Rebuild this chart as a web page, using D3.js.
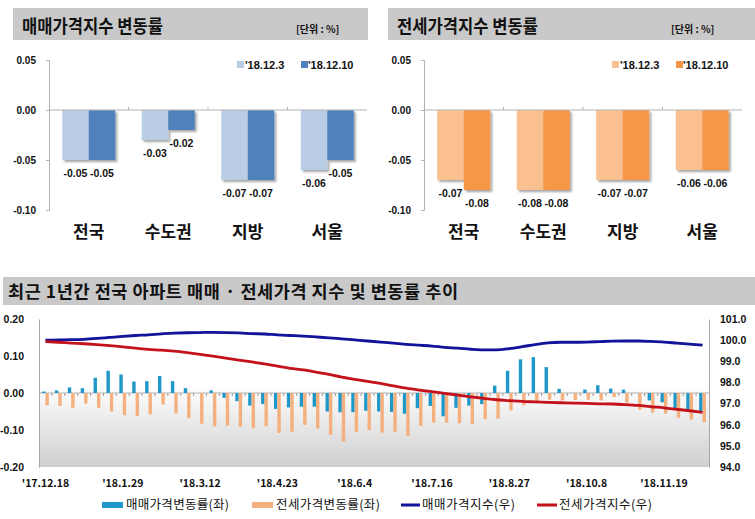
<!DOCTYPE html>
<html><head><meta charset="utf-8">
<script src="https://cdn.jsdelivr.net/npm/d3@7"></script>
<style>
body{margin:0;background:#fff}
svg{display:block}
text{font-family:"Noto Sans CJK KR","Noto Sans",sans-serif;fill:#111}
text.num{font-family:"Liberation Sans",Arial,sans-serif;font-weight:700}
</style>
</head><body>
<svg id="c" width="755" height="519"></svg>
<script>
// ---------- DATA ----------
const regions = ["전국", "수도권", "지방", "서울"];
const weekLegend = ["'18.12.3", "'18.12.10"];
const saleChangePrev = [-0.05, -0.03, -0.07, -0.06];
const saleChangeCurr = [-0.05, -0.02, -0.07, -0.05];
const jeonseChangePrev = [-0.07, -0.08, -0.07, -0.06];
const jeonseChangeCurr = [-0.08, -0.08, -0.07, -0.06];
const topTicks = [0.05, 0.00, -0.05, -0.10];

const weeks = ["'17.12.18","'17.12.25","'18.1.1","'18.1.8","'18.1.15","'18.1.22","'18.1.29","'18.2.5","'18.2.12","'18.2.19","'18.2.26","'18.3.5","'18.3.12","'18.3.19","'18.3.26","'18.4.2","'18.4.9","'18.4.16","'18.4.23","'18.4.30","'18.5.7","'18.5.14","'18.5.21","'18.5.28","'18.6.4","'18.6.11","'18.6.18","'18.6.25","'18.7.2","'18.7.9","'18.7.16","'18.7.23","'18.7.30","'18.8.6","'18.8.13","'18.8.20","'18.8.27","'18.9.3","'18.9.10","'18.9.17","'18.9.24","'18.10.1","'18.10.8","'18.10.15","'18.10.22","'18.10.29","'18.11.5","'18.11.12","'18.11.19","'18.11.26","'18.12.3","'18.12.10"];
const saleWeekly = [0.004,0.007,0.015,0.013,0.041,0.06,0.05,0.031,0.032,0.046,0.032,0.013,0,0.007,-0.013,-0.022,-0.034,-0.03,-0.043,-0.039,-0.037,-0.037,-0.05,-0.052,-0.052,-0.048,-0.05,-0.051,-0.056,-0.041,-0.035,-0.063,-0.04,-0.034,-0.03,0.02,0.06,0.091,0.097,0.07,0.011,0,0.009,0.021,0.012,0.009,0,-0.02,-0.025,-0.041,-0.047,-0.051];
const jeonseWeekly = [-0.033,-0.035,-0.04,-0.029,-0.04,-0.05,-0.06,-0.062,-0.058,-0.031,-0.055,-0.068,-0.083,-0.09,-0.088,-0.091,-0.095,-0.09,-0.108,-0.105,-0.086,-0.096,-0.113,-0.131,-0.105,-0.10,-0.107,-0.105,-0.116,-0.089,-0.08,-0.08,-0.082,-0.084,-0.071,-0.069,-0.047,-0.033,-0.022,-0.018,-0.02,-0.019,-0.018,-0.02,-0.011,-0.026,-0.045,-0.053,-0.056,-0.067,-0.072,-0.079];
const saleIndex = [100.00,100.01,100.02,100.04,100.08,100.13,100.18,100.22,100.25,100.30,100.33,100.35,100.36,100.37,100.36,100.34,100.31,100.29,100.25,100.22,100.19,100.15,100.11,100.06,100.01,99.96,99.91,99.86,99.80,99.76,99.72,99.66,99.62,99.57,99.54,99.54,99.60,99.69,99.79,99.87,99.90,99.90,99.91,99.93,99.95,99.96,99.96,99.94,99.91,99.86,99.81,99.76];
const jeonseIndex = [99.93,99.90,99.86,99.83,99.79,99.74,99.68,99.62,99.56,99.53,99.48,99.41,99.33,99.24,99.15,99.06,98.97,98.88,98.77,98.67,98.59,98.49,98.38,98.25,98.15,98.05,97.95,97.84,97.73,97.64,97.56,97.48,97.40,97.32,97.25,97.18,97.14,97.10,97.08,97.06,97.04,97.02,97.01,96.99,96.98,96.95,96.91,96.85,96.80,96.73,96.66,96.58];
const leftTicks = [0.20, 0.10, 0.00, -0.10, -0.20];
const rightTicks = [101, 100, 99, 98, 97, 96, 95, 94];
const legendBottom = ["매매가격변동률(좌)", "전세가격변동률(좌)", "매매가격지수(우)", "전세가격지수(우)"];

// ---------- SETUP ----------
const svg = d3.select("#c");
const defs = svg.append("defs");
const flt = defs.append("filter").attr("id", "sh").attr("x", "-30%").attr("y", "-10%").attr("width", "170%").attr("height", "130%");
flt.append("feDropShadow").attr("dx", 2).attr("dy", 2).attr("stdDeviation", 1.3)
  .attr("flood-color", "#000").attr("flood-opacity", 0.35);
const grad = defs.append("linearGradient").attr("id", "bg").attr("x1", 0).attr("y1", 0).attr("x2", 0).attr("y2", 1);
grad.append("stop").attr("offset", "0%").attr("stop-color", "#ffffff");
grad.append("stop").attr("offset", "45%").attr("stop-color", "#ffffff");
grad.append("stop").attr("offset", "100%").attr("stop-color", "#cfcfcf");

const loc = d3.formatLocale({decimal: ".", thousands: ",", grouping: [3], currency: ["", ""], minus: "-"});
const fmt2 = loc.format(".2f");
const fmt1 = loc.format(".1f");
const AX = "#b3b3b3";

// ---------- TOP PANELS ----------
function topPanel(x0, headerW, title, prev, curr, cPrev, cCurr) {
  const p = svg.append("g");
  p.append("rect").attr("x", x0 + 13).attr("y", 8).attr("width", headerW).attr("height", 32).attr("fill", "#c9c9c9");
  p.append("text").attr("x", x0 + 22).attr("y", 33).attr("font-size", 18).attr("font-weight", 700)
    .attr("textLength", 141).attr("lengthAdjust", "spacingAndGlyphs").text(title);
  p.append("text").attr("x", x0 + 296).attr("y", 33).attr("font-size", 10).attr("font-weight", 700).text("[단위 : %]");

  const y = d3.scaleLinear().domain([-0.10, 0.05]).range([210, 60]);
  const x = d3.scaleBand().domain(regions).range([x0 + 49, x0 + 367]);
  const xs = d3.scaleBand().domain(["prev", "curr"]).range([0, x.bandwidth()]).paddingInner(0).paddingOuter(0.5);

  // y axis
  const yAxis = d3.axisLeft(y).tickValues(topTicks).tickSize(3).tickFormat(fmt2);
  const ga = p.append("g").attr("transform", `translate(${x0 + 49},0)`).call(yAxis);
  ga.select(".domain").attr("stroke", AX);
  ga.selectAll(".tick line").attr("stroke", AX);
  ga.selectAll(".tick text").attr("class", "num").attr("x", -13).attr("font-size", 10).attr("fill", "#111");

  // bars
  const data = regions.map((r, i) => ({r, prev: prev[i], curr: curr[i]}));
  const groups = p.selectAll(".grp").data(data).join("g").attr("transform", d => `translate(${x(d.r)},0)`);
  [["prev", cPrev], ["curr", cCurr]].forEach(([k, col]) => {
    groups.append("rect").attr("x", xs(k)).attr("width", xs.bandwidth())
      .attr("y", d => y(Math.max(0, d[k]))).attr("height", d => Math.abs(y(d[k]) - y(0)))
      .attr("fill", col).attr("filter", "url(#sh)");
    groups.append("text").attr("class", "num").attr("x", xs(k) + xs.bandwidth() / 2).attr("y", d => y(d[k]) + 17)
      .attr("text-anchor", "middle").attr("font-size", 10.5).text(d => fmt2(d[k]));
  });

  // zero line + category boundary ticks
  p.append("line").attr("x1", x0 + 49).attr("x2", x0 + 367).attr("y1", y(0)).attr("y2", y(0)).attr("stroke", AX);
  regions.slice(1).forEach(r => {
    p.append("line").attr("x1", x(r)).attr("x2", x(r)).attr("y1", y(0) - 3).attr("y2", y(0)).attr("stroke", AX);
  });

  // category labels
  p.selectAll(".cat").data(regions).join("text").attr("x", d => x(d) + x.bandwidth() / 2).attr("y", 238)
    .attr("text-anchor", "middle").attr("font-size", 17).attr("font-weight", 700).text(d => d);

  // legend
  [[cPrev, 237, 245], [cCurr, 301, 308]].forEach(([col, rx, tx], i) => {
    p.append("rect").attr("x", x0 + rx).attr("y", 61).attr("width", 7).attr("height", 7).attr("fill", col);
    p.append("text").attr("class", "num").attr("x", x0 + tx).attr("y", 69).attr("font-size", 11).text(weekLegend[i]);
  });
}
topPanel(0, 355, "매매가격지수 변동률", saleChangePrev, saleChangeCurr, "#b9cde5", "#4f81bd");
topPanel(375, 380, "전세가격지수 변동률", jeonseChangePrev, jeonseChangeCurr, "#fac090", "#f79646");

// ---------- BOTTOM PANEL ----------
const b = svg.append("g");
b.append("rect").attr("x", 3).attr("y", 277).attr("width", 752).attr("height", 28).attr("fill", "#c9c9c9");
b.append("text").attr("x", 8).attr("y", 298).attr("font-size", 17.5).attr("font-weight", 700)
  .attr("textLength", 450).attr("lengthAdjust", "spacing")
  .text("최근 1년간 전국 아파트 매매 · 전세가격 지수 및 변동률 추이");

const PL = 39, PR = 709, PT = 319, PB = 467;
const xB = d3.scaleBand().domain(weeks).range([PL, PR]);
const xI = d3.scaleBand().domain(["sale", "jeonse"]).range([0, xB.bandwidth()]).paddingInner(0).paddingOuter(0.9);
const yL = d3.scaleLinear().domain([-0.2, 0.2]).range([PB, PT]);
const yR = d3.scaleLinear().domain([94, 101]).range([PB, PT]);

b.append("rect").attr("x", PL).attr("y", PT).attr("width", PR - PL).attr("height", PB - PT).attr("fill", "url(#bg)");

// axes
const gl = b.append("g").attr("transform", `translate(${PL},0)`)
  .call(d3.axisLeft(yL).tickValues(leftTicks).tickSize(0).tickPadding(15).tickFormat(fmt2));
const gr = b.append("g").attr("transform", `translate(${PR},0)`)
  .call(d3.axisRight(yR).tickValues(rightTicks).tickSize(0).tickPadding(11).tickFormat(fmt1));
[gl, gr].forEach(g => {
  g.select(".domain").attr("stroke", "#a6a6a6");
  g.selectAll(".tick text").attr("class", "num").attr("font-size", 10.5).attr("fill", "#111");
});

// zero line with boundary ticks
b.append("line").attr("x1", PL).attr("x2", PR).attr("y1", yL(0)).attr("y2", yL(0)).attr("stroke", AX);
b.selectAll(".bt").data(weeks.slice(1)).join("line")
  .attr("x1", d => xB(d)).attr("x2", d => xB(d)).attr("y1", yL(0)).attr("y2", yL(0) + 3).attr("stroke", "#999");

// bars
const wk = weeks.map((w, i) => ({w, sale: saleWeekly[i], jeonse: jeonseWeekly[i]}));
[["sale", "#1e98c8"], ["jeonse", "#f4b07f"]].forEach(([k, col]) => {
  b.selectAll(".b" + k).data(wk).join("rect")
    .attr("x", d => xB(d.w) + xI(k)).attr("width", xI.bandwidth())
    .attr("y", d => yL(Math.max(0, d[k]))).attr("height", d => Math.abs(yL(d[k]) - yL(0)))
    .attr("fill", col);
});

// lines
const cx = w => xB(w) + xB.bandwidth() / 2;
[[saleIndex, "#12129a"], [jeonseIndex, "#c3121b"]].forEach(([arr, col]) => {
  const ln = d3.line().x((d, i) => cx(weeks[i])).y(d => yR(d)).curve(d3.curveMonotoneX);
  b.append("path").attr("d", ln(arr)).attr("fill", "none").attr("stroke", col).attr("stroke-width", 2.8);
});

// x labels
b.selectAll(".xl").data(weeks.filter((w, i) => i % 6 === 0)).join("text")
  .attr("x", d => cx(d)).attr("y", 487).attr("text-anchor", "middle")
  .attr("font-size", 10.5).attr("font-weight", 700).text(d => d);

// legend
const lg = b.append("g");
lg.append("rect").attr("x", 102).attr("y", 502).attr("width", 21).attr("height", 6).attr("fill", "#1e98c8");
lg.append("text").attr("x", 126).attr("y", 509).attr("font-size", 12.5).attr("textLength", 103).attr("lengthAdjust", "spacing").text(legendBottom[0]);
lg.append("rect").attr("x", 252).attr("y", 502).attr("width", 21).attr("height", 6).attr("fill", "#f4b07f");
lg.append("text").attr("x", 276).attr("y", 509).attr("font-size", 12.5).attr("textLength", 104).attr("lengthAdjust", "spacing").text(legendBottom[1]);
lg.append("line").attr("x1", 401).attr("x2", 420).attr("y1", 505).attr("y2", 505).attr("stroke", "#12129a").attr("stroke-width", 3);
lg.append("text").attr("x", 422).attr("y", 509).attr("font-size", 12.5).attr("textLength", 93).attr("lengthAdjust", "spacing").text(legendBottom[2]);
lg.append("line").attr("x1", 537).attr("x2", 557).attr("y1", 505).attr("y2", 505).attr("stroke", "#c3121b").attr("stroke-width", 3);
lg.append("text").attr("x", 559).attr("y", 509).attr("font-size", 12.5).attr("textLength", 93).attr("lengthAdjust", "spacing").text(legendBottom[3]);
</script>
</body></html>
